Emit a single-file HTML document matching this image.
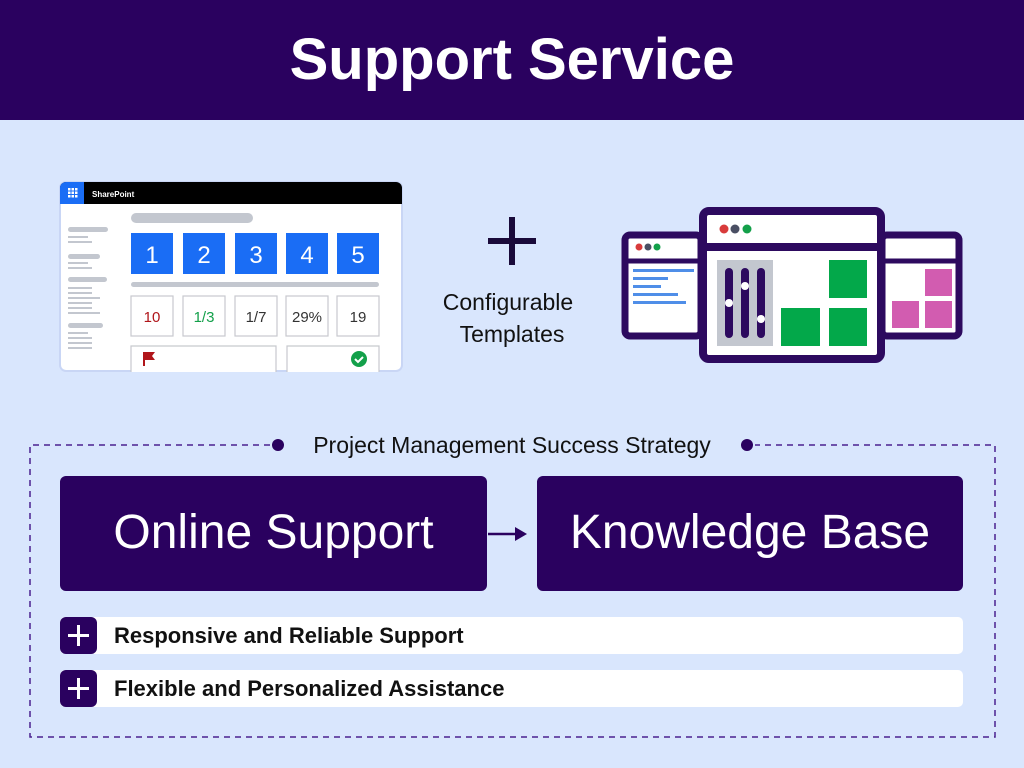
<!DOCTYPE html>
<html><head><meta charset="utf-8"><style>
*{margin:0;padding:0;box-sizing:border-box}
body{width:1024px;height:768px;background:#d9e6fd;font-family:"Liberation Sans","DejaVu Sans",sans-serif;position:relative;overflow:hidden}
.hdr{position:absolute;left:0;top:0;width:1024px;height:120px;background:#2a015f;color:#fff;font-weight:bold;font-size:58px;text-align:center;line-height:120px}
.abs{position:absolute}
.box{position:absolute;background:#2a015f;border-radius:6px;color:#fff;font-size:48px;text-align:center;line-height:113px}
.row{position:absolute;left:60px;width:903px;height:37px;background:#fff;border-radius:5px;font-size:22px;font-weight:bold;color:#111;line-height:37px;padding-left:54px}
.pl{position:absolute;left:0;top:0;width:37px;height:37px;background:#2a015f;border-radius:6px}
.pl:before{content:"";position:absolute;left:8px;top:17px;width:21px;height:3px;background:#fff}
.pl:after{content:"";position:absolute;left:17px;top:8px;width:3px;height:21px;background:#fff}
</style></head><body>
<div class="hdr">Support Service</div>

<svg class="abs" style="left:0;top:0" width="1024" height="768">
 <rect x="60" y="182" width="342" height="189" rx="6" fill="#fff" stroke="#c9d6f5" stroke-width="2"/>
 <path d="M66 182 H396 a6 6 0 0 1 6 6 V204 H60 V188 a6 6 0 0 1 6 -6z" fill="#000"/>
 <path d="M66 182 H84 V204 H60 V188 a6 6 0 0 1 6-6z" fill="#1a6df5"/>
 <g fill="#fff"><rect x="68" y="188" width="2.5" height="2.5"/><rect x="71.5" y="188" width="2.5" height="2.5"/><rect x="75" y="188" width="2.5" height="2.5"/><rect x="68" y="191.5" width="2.5" height="2.5"/><rect x="71.5" y="191.5" width="2.5" height="2.5"/><rect x="75" y="191.5" width="2.5" height="2.5"/><rect x="68" y="195" width="2.5" height="2.5"/><rect x="71.5" y="195" width="2.5" height="2.5"/><rect x="75" y="195" width="2.5" height="2.5"/></g>
 <text x="92" y="197" fill="#fff" font-size="8" font-weight="bold" font-family="Liberation Sans">SharePoint</text>
 <g fill="#c3c7cf">
  <rect x="68" y="227" width="40" height="5" rx="2.5"/><rect x="68" y="236" width="20" height="2"/><rect x="68" y="241" width="24" height="2"/>
  <rect x="68" y="254" width="32" height="5" rx="2.5"/><rect x="68" y="262" width="20" height="2"/><rect x="68" y="267" width="24" height="2"/>
  <rect x="68" y="277" width="39" height="5" rx="2.5"/><rect x="68" y="287" width="24" height="2"/><rect x="68" y="292" width="24" height="2"/><rect x="68" y="297" width="32" height="2"/><rect x="68" y="302" width="24" height="2"/><rect x="68" y="307" width="24" height="2"/><rect x="68" y="312" width="32" height="2"/>
  <rect x="68" y="323" width="35" height="5" rx="2.5"/><rect x="68" y="332" width="20" height="2"/><rect x="68" y="337" width="24" height="2"/><rect x="68" y="342" width="24" height="2"/><rect x="68" y="347" width="24" height="2"/>
  <rect x="131" y="213" width="122" height="10" rx="5"/>
  <rect x="131" y="282" width="248" height="5" rx="2.5"/>
  <rect x="170" y="356" width="90" height="5" rx="2.5"/>
  <rect x="297" y="356" width="44" height="5" rx="2.5"/>
 </g>
 <g fill="#1a6df5"><rect x="131" y="233" width="42" height="41"/><rect x="183" y="233" width="42" height="41"/><rect x="235" y="233" width="42" height="41"/><rect x="286" y="233" width="42" height="41"/><rect x="337" y="233" width="42" height="41"/></g>
 <g fill="#fff" font-size="24" font-family="Liberation Sans" text-anchor="middle"><text x="152" y="263">1</text><text x="204" y="263">2</text><text x="256" y="263">3</text><text x="307" y="263">4</text><text x="358" y="263">5</text></g>
 <g fill="#fff" stroke="#c7c9ce" stroke-width="1.2"><rect x="131" y="296" width="42" height="40"/><rect x="183" y="296" width="42" height="40"/><rect x="235" y="296" width="42" height="40"/><rect x="286" y="296" width="42" height="40"/><rect x="337" y="296" width="42" height="40"/>
 <path d="M131 372 V346 H276 V372 M287 372 V346 H379 V372"/></g>
 <g font-size="15" font-family="Liberation Sans" text-anchor="middle"><text x="152" y="322" fill="#b0151a">10</text><text x="204" y="322" fill="#13a04a">1/3</text><text x="256" y="322" fill="#333">1/7</text><text x="307" y="322" fill="#333">29%</text><text x="358" y="322" fill="#333">19</text></g>
 <path d="M143 352 h12 l-3 4 3 4 h-10 v6 h-2z" fill="#b0151a"/>
 <circle cx="359" cy="359" r="8" fill="#13a04a"/><path d="M355 359 l3 3 5 -5" stroke="#fff" stroke-width="2" fill="none"/>

 <rect x="488" y="238" width="48" height="6" fill="#1a0a3a"/><rect x="509" y="217" width="6" height="48" fill="#1a0a3a"/>
 <g font-size="23" fill="#111" text-anchor="middle" font-family="Liberation Sans"><text x="508" y="310">Configurable</text><text x="512" y="342">Templates</text></g>

 <rect x="625" y="235" width="76" height="101" rx="5" fill="#fff" stroke="#2d0a5f" stroke-width="7"/>
 <line x1="625" y1="261" x2="701" y2="261" stroke="#2d0a5f" stroke-width="5"/>
 <circle cx="639" cy="247" r="3.5" fill="#d83b3b"/><circle cx="648" cy="247" r="3.5" fill="#4a4f63"/><circle cx="657" cy="247" r="3.5" fill="#13a04a"/>
 <g fill="#4f8ee8"><rect x="633" y="269" width="61" height="3"/><rect x="633" y="277" width="35" height="3"/><rect x="633" y="285" width="28" height="3"/><rect x="633" y="293" width="45" height="3"/><rect x="633" y="301" width="53" height="3"/></g>
 <rect x="882" y="235" width="77" height="101" rx="5" fill="#fff" stroke="#2d0a5f" stroke-width="7"/>
 <line x1="882" y1="261" x2="959" y2="261" stroke="#2d0a5f" stroke-width="5"/>
 <g fill="#d25cb0"><rect x="925" y="269" width="27" height="27"/><rect x="892" y="301" width="27" height="27"/><rect x="925" y="301" width="27" height="27"/></g>
 <rect x="703" y="211" width="178" height="148" rx="6" fill="#fff" stroke="#2d0a5f" stroke-width="8"/>
 <line x1="703" y1="247" x2="881" y2="247" stroke="#2d0a5f" stroke-width="8"/>
 <circle cx="724" cy="229" r="4.5" fill="#d83b3b"/><circle cx="735" cy="229" r="4.5" fill="#4a4f63"/><circle cx="747" cy="229" r="4.5" fill="#13a04a"/>
 <rect x="717" y="260" width="56" height="86" fill="#c3c7cf"/>
 <g stroke="#2d0a5f" stroke-width="8" stroke-linecap="round"><line x1="729" y1="272" x2="729" y2="334"/><line x1="745" y1="272" x2="745" y2="334"/><line x1="761" y1="272" x2="761" y2="334"/></g>
 <g fill="#fff"><circle cx="729" cy="303" r="4"/><circle cx="745" cy="286" r="4"/><circle cx="761" cy="319" r="4"/></g>
 <g fill="#03a84a"><rect x="829" y="260" width="38" height="38"/><rect x="781" y="308" width="39" height="38"/><rect x="829" y="308" width="38" height="38"/></g>

 <path d="M270 445 H30 V737 H995 V445 H755" fill="none" stroke="#4a2190" stroke-width="1.5" stroke-dasharray="6 5"/>
 <circle cx="278" cy="445" r="6" fill="#2a015f"/><circle cx="747" cy="445" r="6" fill="#2a015f"/>
 <text x="512" y="453" text-anchor="middle" font-size="23" fill="#111" font-family="Liberation Sans">Project Management Success Strategy</text>
 <line x1="488" y1="534" x2="518" y2="534" stroke="#2a015f" stroke-width="2.5"/>
 <path d="M515 527 L527 534 L515 541z" fill="#2a015f"/>
</svg>

<div class="box" style="left:60px;top:476px;width:427px;height:115px">Online Support</div>
<div class="box" style="left:537px;top:476px;width:426px;height:115px">Knowledge Base</div>
<div class="row" style="top:617px"><div class="pl"></div>Responsive and Reliable Support</div>
<div class="row" style="top:670px"><div class="pl"></div>Flexible and Personalized Assistance</div>
</body></html>
